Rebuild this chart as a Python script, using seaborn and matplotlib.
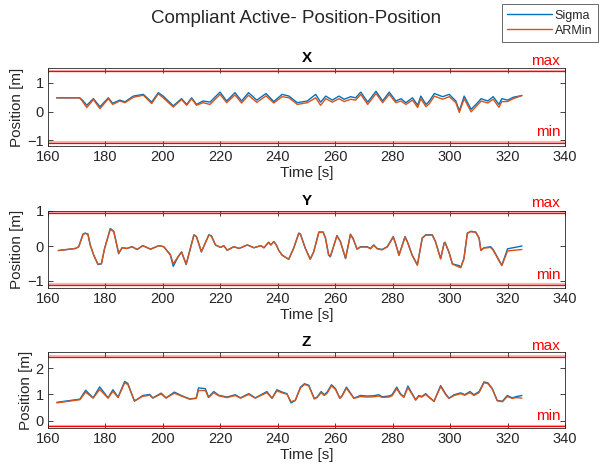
import numpy as np
import pandas as pd
import matplotlib
matplotlib.use("Agg")
import matplotlib.pyplot as plt
import seaborn as sns

# ---------------- data ----------------
tx = [163, 171, 172, 173.5, 175.8, 178.1, 181, 182.5, 185, 186.8, 189.7, 193.2, 196.1, 198.4, 200.1, 203.6,
      206.5, 208.3, 210, 211.7, 214, 216.4, 219.9, 222.2, 225.1, 227.4, 229.8, 232.7, 235.9, 238.6, 241.5,
      243.9, 246.8, 250.3, 253.2, 254.9, 256.7, 259, 261.3, 263.1, 265.4, 267.1, 268.9, 271.3, 274.2, 276.5,
      278.8, 281.1, 282.9, 284.6, 286.9, 288.7, 289.8, 291.6, 292.8, 294.5, 297.4, 299.7, 302, 303.2, 304.9,
      307.3, 309, 310.8, 313.1, 315, 317, 318, 320, 322, 325]
x_sigma = [0.48, 0.48, 0.40, 0.22, 0.45, 0.17, 0.48, 0.29, 0.40, 0.34, 0.54, 0.60, 0.33, 0.66, 0.54, 0.20,
           0.45, 0.25, 0.48, 0.25, 0.37, 0.33, 0.68, 0.37, 0.66, 0.37, 0.66, 0.40, 0.63, 0.35, 0.60,
           0.54, 0.31, 0.37, 0.60, 0.33, 0.54, 0.40, 0.54, 0.43, 0.52, 0.48, 0.68, 0.33, 0.71, 0.37,
           0.68, 0.37, 0.45, 0.31, 0.48, 0.22, 0.54, 0.25, 0.37, 0.63, 0.52, 0.60, 0.37, 0.02, 0.54,
           0.08, 0.25, 0.45, 0.37, 0.52, 0.25, 0.45, 0.40, 0.50, 0.56]
x_armin = [0.48, 0.48, 0.36, 0.14, 0.42, 0.10, 0.45, 0.25, 0.37, 0.31, 0.50, 0.57, 0.28, 0.62, 0.48, 0.16,
           0.42, 0.22, 0.45, 0.22, 0.31, 0.25, 0.60, 0.31, 0.58, 0.30, 0.57, 0.32, 0.55, 0.30, 0.52,
           0.48, 0.25, 0.31, 0.48, 0.22, 0.45, 0.33, 0.45, 0.35, 0.43, 0.40, 0.60, 0.25, 0.63, 0.31,
           0.60, 0.31, 0.37, 0.25, 0.40, 0.14, 0.45, 0.17, 0.28, 0.54, 0.43, 0.52, 0.31, -0.03, 0.45,
           -0.01, 0.17, 0.37, 0.30, 0.43, 0.15, 0.35, 0.35, 0.45, 0.56]

ty = [163.6, 169.6, 170.7, 172.2, 173.0, 173.9, 174.7, 175.9, 177.4, 178.6, 179.7, 181.7, 182.9, 184.6, 185.8,
      187.5, 189.3, 191.0, 193.0, 195.7, 198.6, 200.3, 202.6, 203.6, 205.3, 206.5, 208.1, 210.8, 211.7, 213.4,
      216.0, 216.9, 218.3, 220.1, 221.2, 222.4, 224.7, 226.5, 229.4, 231.7, 234.1, 235.2, 236.8, 237.6, 238.6,
      239.5, 240.3, 241.5, 243.8, 245.5, 247.3, 247.9, 249.6, 251.3, 252.5, 254.3, 255.8, 256.6, 257.7, 258.3,
      260.6, 261.8, 263.6, 265.3, 266.2, 267.6, 268.8, 271.1, 272.3, 273.4, 274.6, 276.3, 278.1, 280.2, 281.0,
      282.2, 284.3, 285.1, 286.8, 288.6, 290.3, 291.5, 293.8, 294.9, 296.7, 297.9, 298.2, 299.6, 300.8, 303.1,
      303.7, 304.8, 306.0, 307.2, 308.9, 310.1, 310.7, 311.8, 314.1, 315.0, 317.0, 318.0, 320.0, 325.0]
y_sigma = [-0.13, -0.07, -0.02, 0.34, 0.37, 0.34, 0.03, -0.26, -0.53, -0.51, -0.07, 0.50, 0.42, -0.22, -0.05,
           -0.07, -0.02, -0.10, 0.01, -0.09, 0.01, -0.02, -0.26, -0.58, -0.31, -0.17, -0.53, 0.32, 0.27, -0.17,
           0.32, 0.29, 0.03, -0.04, 0.01, -0.12, -0.02, -0.07, 0.03, -0.05, 0.01, -0.05, 0.11, 0.03, 0.13,
           0.03, -0.12, -0.26, -0.38, -0.07, 0.37, 0.34, -0.07, -0.38, -0.17, 0.40, 0.40, 0.23, -0.26, -0.31,
           0.30, 0.13, -0.36, 0.34, 0.22, -0.09, -0.02, -0.02, -0.07, 0.03, -0.07, -0.10, -0.02, 0.27, 0.08,
           -0.26, 0.27, 0.13, -0.26, -0.54, 0.23, 0.32, 0.32, 0.13, -0.36, 0.08, 0.11, -0.17, -0.51, -0.56,
           -0.61, -0.36, 0.37, 0.42, 0.40, 0.23, -0.12, -0.05, -0.02, -0.10, -0.40, -0.55, -0.08, 0.00]
y_armin = [-0.13, -0.07, -0.02, 0.33, 0.36, 0.33, 0.03, -0.25, -0.52, -0.50, -0.07, 0.48, 0.41, -0.20, -0.05,
           -0.07, -0.02, -0.10, 0.01, -0.09, 0.01, -0.02, -0.24, -0.51, -0.30, -0.17, -0.52, 0.31, 0.26, -0.16,
           0.31, 0.28, 0.03, -0.04, 0.01, -0.12, -0.02, -0.07, 0.03, -0.05, 0.01, -0.05, 0.10, 0.03, 0.12,
           0.03, -0.12, -0.26, -0.38, -0.07, 0.35, 0.33, -0.07, -0.37, -0.17, 0.39, 0.39, 0.22, -0.25, -0.30,
           0.29, 0.12, -0.35, 0.32, 0.21, -0.09, -0.03, -0.03, -0.08, 0.02, -0.08, -0.11, -0.03, 0.25, 0.07,
           -0.27, 0.25, 0.12, -0.27, -0.55, 0.22, 0.31, 0.31, 0.12, -0.37, 0.07, 0.10, -0.18, -0.52, -0.60,
           -0.62, -0.37, 0.36, 0.41, 0.39, 0.22, -0.13, -0.06, -0.04, -0.12, -0.42, -0.56, -0.14, -0.10]

tz = [163.1, 171.1, 173.1, 175.7, 178.0, 180.9, 182.6, 184.4, 186.7, 187.8, 190.1, 193.0, 195.4, 196.5, 199.4,
      201.1, 204.0, 206.4, 209.3, 211.6, 212.4, 214.8, 215.9, 217.7, 219.4, 222.3, 225.2, 227.0, 229.9, 232.2,
      236.2, 238.0, 239.7, 241.5, 243.2, 244.6, 246.1, 247.9, 249.3, 250.8, 252.7, 253.7, 255.1, 256.2, 257.2,
      258.7, 260.1, 261.6, 262.4, 263.9, 265.1, 266.5, 268.8, 271.1, 273.4, 275.2, 276.3, 278.7, 279.8, 281.4,
      282.7, 283.9, 285.3, 286.8, 288.0, 289.1, 290.1, 291.5, 292.6, 294.4, 296.7, 298.4, 299.6, 301.4, 303.7,
      305.1, 306.9, 308.3, 310.1, 311.8, 313.2, 314.7, 316.4, 318.2, 319.9, 321.6, 323.1, 325.0]
z_sigma = [0.70, 0.82, 1.16, 0.87, 1.29, 0.87, 1.18, 0.90, 1.50, 1.42, 0.74, 0.96, 1.00, 0.87, 1.05,
           0.87, 1.09, 0.96, 0.83, 0.86, 1.25, 1.22, 0.90, 1.11, 0.97, 0.90, 0.99, 0.87, 1.03, 0.87,
           1.11, 0.86, 1.18, 1.09, 1.03, 0.68, 0.77, 1.28, 1.41, 1.35, 0.84, 0.90, 1.11, 0.99, 1.09,
           1.37, 1.22, 0.86, 0.96, 1.28, 1.09, 0.86, 0.96, 0.94, 0.95, 0.99, 0.91, 0.94, 0.99, 1.28,
           1.03, 0.91, 1.32, 1.03, 0.80, 0.96, 0.92, 1.03, 0.91, 0.73, 1.34, 1.03, 0.86, 0.99, 1.06,
           0.99, 1.11, 0.99, 1.11, 1.48, 1.44, 1.22, 0.77, 0.74, 0.96, 0.87, 0.92, 0.96]
z_armin = [0.68, 0.80, 1.09, 0.86, 1.19, 0.86, 1.12, 0.88, 1.45, 1.38, 0.76, 0.93, 0.97, 0.86, 1.02,
           0.86, 1.05, 0.94, 0.82, 0.85, 1.15, 1.15, 0.88, 1.07, 0.95, 0.88, 0.96, 0.86, 1.00, 0.86,
           1.07, 0.85, 1.14, 1.06, 1.01, 0.72, 0.78, 1.25, 1.38, 1.33, 0.83, 0.88, 1.07, 0.96, 1.05,
           1.33, 1.19, 0.85, 0.94, 1.24, 1.06, 0.85, 0.92, 0.90, 0.91, 0.94, 0.89, 0.90, 0.95, 1.22,
           1.00, 0.89, 1.26, 1.00, 0.78, 0.93, 0.90, 1.00, 0.89, 0.75, 1.30, 1.00, 0.85, 0.96, 1.03,
           0.97, 1.07, 0.96, 1.07, 1.45, 1.41, 1.20, 0.76, 0.72, 0.92, 0.85, 0.88, 0.86]

titles = ["X", "Y", "Z"]
limits_max = [1.40, 0.93, 2.44]
limits_min = [-1.08, -1.12, -0.22]
ylims = [(-1.2, 1.52), (-1.2, 1.0), (-0.28, 2.62)]
yticks = [[-1, 0, 1], [-1, 0, 1], [0, 1, 2]]
xticks = [160, 180, 200, 220, 240, 260, 280, 300, 320, 340]
series_names = ["Sigma", "ARMin"]

# ---------------- style ----------------
sns.set_style("ticks")
plt.rcParams['font.family'] = ['Liberation Sans', 'DejaVu Sans']
plt.rcParams['xtick.direction'] = 'in'
plt.rcParams['ytick.direction'] = 'in'

BLUE = "#0072BD"
ORANGE = "#D95319"
TXT = "#262626"
RED = "#FF0000"

fig = plt.figure(figsize=(6.06, 4.72), dpi=100)
left, width = 48 / 606, 517 / 606
boxes = [(68, 146), (211, 288), (352, 428)]

data = [(tx, x_sigma, x_armin), (ty, y_sigma, y_armin), (tz, z_sigma, z_armin)]
handles = labels = None
for i in range(3):
    top_px, bot_px = boxes[i]
    ax = fig.add_axes([left, 1 - bot_px / 472, width, (bot_px - top_px) / 472])
    t, s, a = data[i]
    df = pd.DataFrame({"t": list(t) * 2, "v": list(s) + list(a),
                       "series": [series_names[0]] * len(t) + [series_names[1]] * len(t)})
    sns.lineplot(data=df, x="t", y="v", hue="series",
                 palette={series_names[0]: BLUE, series_names[1]: ORANGE},
                 linewidth=1.0, ax=ax, legend=(i == 0))
    span = ylims[i][1] - ylims[i][0]
    for lim in (limits_max[i], limits_min[i]):
        ax.axhline(lim + 0.012 * span, color=RED, lw=1.6, alpha=0.3)
        ax.axhline(lim, color=RED, lw=0.9)
    ax.annotate("max", xy=(338.3, limits_max[i]), xytext=(0, 4.5), textcoords="offset points",
                color=RED, fontsize=11, ha="right", va="baseline", annotation_clip=False)
    ax.annotate("min", xy=(338.3, limits_min[i]), xytext=(0, 4.5), textcoords="offset points",
                color=RED, fontsize=11, ha="right", va="baseline", annotation_clip=False)
    ax.set_xlim(160, 340)
    ax.set_ylim(*ylims[i])
    ax.set_xticks(xticks)
    ax.set_yticks(yticks[i])
    ax.tick_params(axis="both", labelsize=10.5, colors=TXT, length=3.5, width=0.6,
                   top=True, right=True, pad=3)
    for sp in ax.spines.values():
        sp.set_visible(True)
        sp.set_color(TXT)
        sp.set_linewidth(0.6)
    ax.set_title(titles[i], fontsize=11, fontweight="bold", pad=4, color="black")
    ax.set_xlabel("Time [s]", fontsize=11, color=TXT, labelpad=1)
    ax.set_ylabel("Position [m]", fontsize=11, color=TXT, labelpad=2)
    if i == 0:
        handles, labels = ax.get_legend_handles_labels()
        ax.get_legend().remove()

fig.suptitle("Compliant Active- Position-Position", fontsize=13.5, x=0.489, y=0.978)
leg = fig.legend(handles, labels, loc="upper right", bbox_to_anchor=(598 / 606, 1 - 4 / 472),
                 fontsize=9, frameon=True, fancybox=False, edgecolor="#262626",
                 handlelength=3.6, handletextpad=0.2, borderpad=0.45, labelspacing=0.25,
                 borderaxespad=0)
leg.get_frame().set_linewidth(0.6)
for h in leg.get_lines():
    h.set_linewidth(1.0)

fig.savefig("out.png", dpi=100)
